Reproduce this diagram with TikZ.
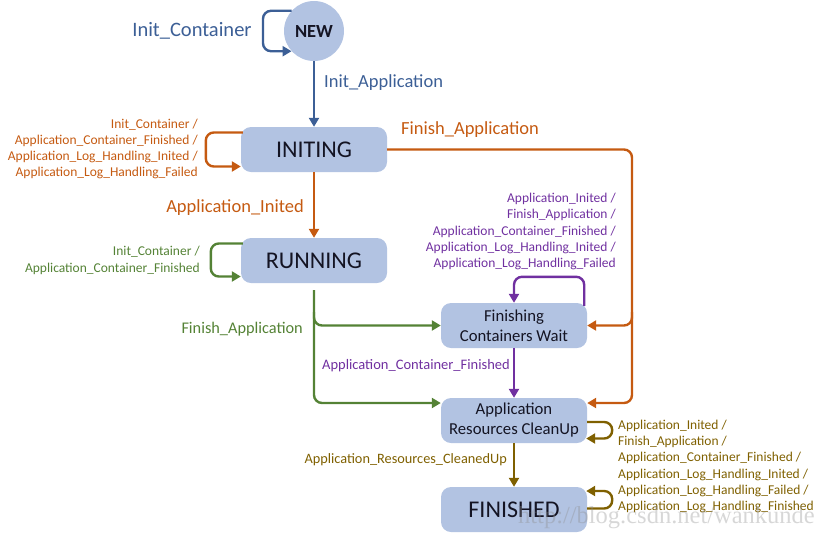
\documentclass[tikz,border=0pt]{standalone}
\usepackage{fontspec}
\setmainfont{Carlito}
\newfontfamily\wmfont{Liberation Serif}
\usetikzlibrary{arrows.meta,calc}
\definecolor{nodefill}{RGB}{178,195,226}
\definecolor{nodetext}{RGB}{20,20,35}
\definecolor{cblue}{RGB}{60,95,150}
\definecolor{corange}{RGB}{197,90,17}
\definecolor{cgreen}{RGB}{84,130,53}
\definecolor{cpurple}{RGB}{112,48,160}
\definecolor{colive}{RGB}{127,96,0}
\begin{document}
\begin{tikzpicture}[x=1pt,y=-1pt,
  state/.style={rounded corners=10pt, fill=nodefill, minimum width=146pt, minimum height=45pt, inner sep=0pt, text=nodetext, align=center},
  tr/.style={line width=2.4pt, -{Triangle[length=9pt,width=10pt]}, rounded corners=8pt},
  lab/.style={inner sep=0pt, font=\fontsize{13.5}{16.3}\selectfont},
  big/.style={inner sep=0pt, font=\fontsize{18.5}{21}\selectfont}]
\useasboundingbox (0,0) rectangle (826,539);

% states
\node[circle, fill=nodefill, minimum size=60pt, inner sep=0pt, text=nodetext, font=\fontsize{18.5}{21}\selectfont\bfseries] (NEW) at (314,31) {NEW};
\node[state, font=\fontsize{24}{28}\selectfont] (INITING) at (314,149.5) {INITING};
\node[state, font=\fontsize{24}{28}\selectfont] (RUNNING) at (314,260.5) {RUNNING};
\node[state, font=\fontsize{16.7}{20}\selectfont] (FCW) at (514,325.5) {Finishing\\Containers Wait};
\node[state, font=\fontsize{16.7}{20}\selectfont] (ARC) at (514,420.5) {Application\\Resources CleanUp};
\node[state, font=\fontsize{24}{28}\selectfont] (FIN) at (514,509.5) {FINISHED};

% coordinates for bends
\coordinate (nl) at (263,31);
\coordinate (o1) at (632,149.5);
\coordinate (o2) at (632,403);
\coordinate (o3) at (632,312);
\coordinate (o4) at (632,325.5);
\coordinate (g0) at (314,290);
\coordinate (g1) at (314,403);
\coordinate (g2) at (314,312);
\coordinate (g3) at (314,325.5);

% NEW
\draw[tr, cblue] (NEW.138) -| (nl) |- (NEW.222);
\node[big, text=cblue, font=\fontsize{20.5}{23}\selectfont] (lnew) at (192,31) {Init\_Container};
\draw[tr, cblue] (NEW) -- (INITING);
\node[big, text=cblue, anchor=west] (linit) at (324,83) {Init\_Application};

% INITING
\draw[tr, corange] ($(INITING.west)+(2,-17)$) -- ++(-37,0) -- ++(0,34) -- ($(INITING.west)+(0,17)$);
\node[lab, text=corange, align=right, anchor=east] (liniting) at (198,149) {Init\_Container /\\Application\_Container\_Finished /\\Application\_Log\_Handling\_Inited /\\Application\_Log\_Handling\_Failed};
\draw[tr, corange] (INITING) -- (RUNNING);
\node[big, text=corange, anchor=east] (lapi) at (304,208) {Application\_Inited};
\draw[tr, corange] (INITING.east) -- (o1) -- (o2) -- ($(ARC.east)+(0,-17.5)$);
\draw[tr, corange] (o3) -- (o4) -- (FCW.east);
\node[big, text=corange, anchor=west] (lfa) at (401,130) {Finish\_Application};

% RUNNING
\draw[tr, cgreen] ($(RUNNING.west)+(2,-17)$) -- ++(-32,0) -- ++(0,33) -- ($(RUNNING.west)+(0,16)$);
\node[lab, text=cgreen, align=right, anchor=east] (lrun) at (200,260.5) {Init\_Container /\\Application\_Container\_Finished};
\draw[tr, cgreen] (g0) -- (g1) -- ($(ARC.west)+(0,-17.5)$);
\draw[tr, cgreen] (g2) -- (g3) -- (FCW.west);
\node[big, text=cgreen, anchor=east, font=\fontsize{16.3}{19}\selectfont] (lfa2) at (303,329) {Finish\_Application};

% FCW
\draw[tr, cpurple] ($(FCW.north east)+(-3,3)$) -- ++(0,-29) -| (FCW.north);
\node[lab, text=cpurple, align=right, anchor=east] (lfcw) at (616,231.5) {Application\_Inited /\\Finish\_Application /\\Application\_Container\_Finished /\\Application\_Log\_Handling\_Inited /\\Application\_Log\_Handling\_Failed};
\draw[tr, cpurple] (FCW) -- (ARC);
\node[lab, text=cpurple, anchor=east, font=\fontsize{14.5}{17}\selectfont] (lacf) at (510,366) {Application\_Container\_Finished};

% ARC
\draw[tr, colive] ($(ARC.east)+(0,1.5)$) -- ++(25,0) -- ++(0,16.5) -- ($(ARC.east)+(-1,18)$);
\draw[tr, colive] (ARC) -- (FIN);
\node[lab, text=colive, anchor=east, font=\fontsize{14.3}{17}\selectfont] (larc) at (507,460) {Application\_Resources\_CleanedUp};

% FINISHED
\draw[tr, colive] ($(FIN.east)+(0,-1)$) -- ++(25,0) -- ++(0,-17.5) -- ($(FIN.east)+(-1,-18.5)$);
\node[lab, text=colive, align=left, anchor=west] (lfin) at (618,466.5) {Application\_Inited /\\Finish\_Application /\\Application\_Container\_Finished /\\Application\_Log\_Handling\_Inited /\\Application\_Log\_Handling\_Failed /\\Application\_Log\_Handling\_Finished};

% watermark (on top, faint)
\node[inner sep=0pt, anchor=east, text=black!45, opacity=0.35, font=\wmfont\fontsize{24.5}{26}\selectfont] (wm) at (815,518) {http://blog.csdn.net/wankunde};
\end{tikzpicture}
\end{document}
